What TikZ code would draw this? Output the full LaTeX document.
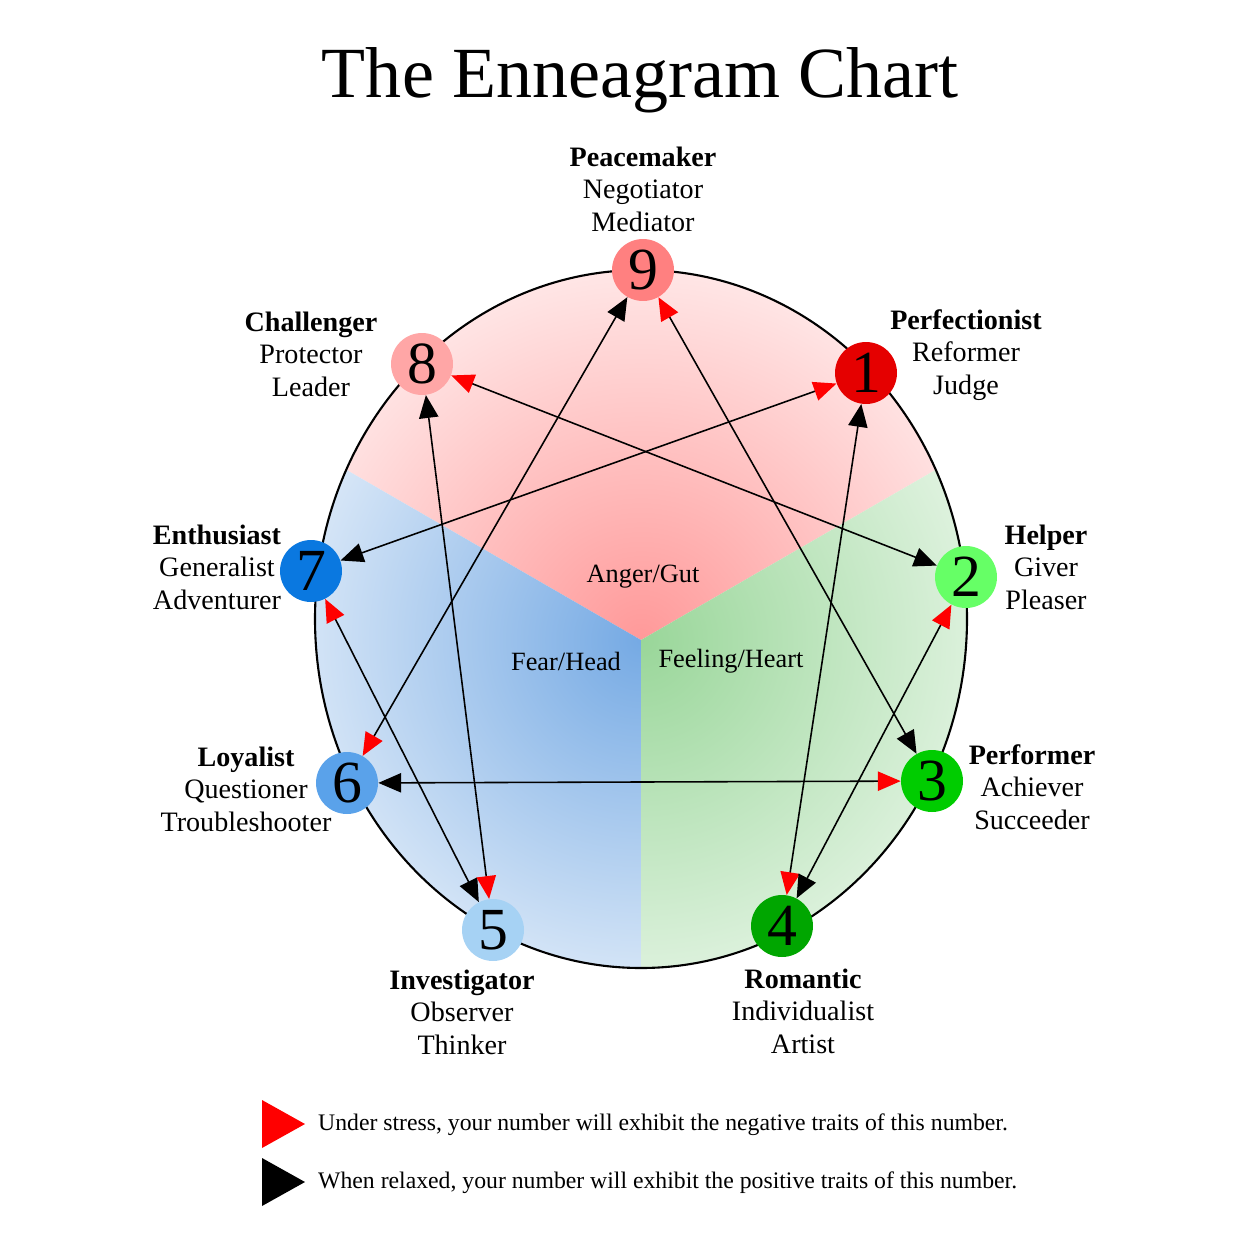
\documentclass[tikz,border=0pt]{standalone}
\usepackage{fontspec}
\setmainfont{Liberation Serif}
\usetikzlibrary{arrows.meta}
\tikzset{>=Latex}
\definecolor{Headcol}{HTML}{3A85D8}
\colorlet{Heartcol}{green!60!black}
\definecolor{col5}{HTML}{A6D2F4}
\definecolor{col6}{HTML}{5AA2EA}
\definecolor{col7}{HTML}{0A78E0}
\tikzset{
  num/.style={circle,minimum size=1.24cm,inner sep=0,font=\fontsize{34}{34}\selectfont},
  lbl/.style={align=center,font=\fontsize{16}{18.5}\selectfont},
  zone/.style={font=\fontsize{15}{15}\selectfont},
  link/.style={line width=0.9pt,
    {Triangle[length=13pt,width=11pt,black]}-{Triangle[length=13pt,width=11pt,red]}},
}
\newcommand\typelabel[3]{\textbf{#1}\\#2\\#3}
\begin{document}
\begin{tikzpicture}[x=0.02cm,y=-0.02cm]
  \useasboundingbox (0,0) rectangle (1254,1254);
  \coordinate (C) at (641,640);
  % centres
  \begin{scope}
    \clip (641,619) ellipse [x radius=326,y radius=349];
    \begin{scope}
      \clip (C) -- (35,290) -- (35,0) -- (1247,0) -- (1247,290) -- cycle;
      \shade[inner color=red!40,outer color=red!5] (C) circle (430);
    \end{scope}
    \begin{scope}
      \clip (C) -- (35,290) -- (35,1254) -- (641,1254) -- cycle;
      \shade[inner color=Headcol!70,outer color=Headcol!8] (C) circle (430);
    \end{scope}
    \begin{scope}
      \clip (C) -- (1247,290) -- (1247,1254) -- (641,1254) -- cycle;
      \shade[inner color=Heartcol!40,outer color=Heartcol!6] (C) circle (430);
    \end{scope}
  \end{scope}
  \draw[line width=1.2pt] (641,619) ellipse [x radius=326,y radius=349];

  \node[zone] (gut) at (643,577) {Anger/Gut};
  \node[zone] (head) at (566,661) {Fear/Head};
  \node[zone] (heart) at (731,661) {Feeling/Heart};

  % type points
  \node[num,fill=red!50!white] (n9) at (643,270) {9};
  \node[num,fill=red!35!white] (n8) at (422,364) {8};
  \node[num,fill=red!90!black] (n1) at (866,373) {1};
  \node[num,fill=green!60!white] (n2) at (966,577) {2};
  \node[num,fill=green!80!black] (n3) at (932,781) {3};
  \node[num,fill=green!65!black] (n4) at (782,926) {4};
  \node[num,fill=col5] (n5) at (493,930) {5};
  \node[num,fill=col6] (n6) at (347,783) {6};
  \node[num,fill=col7] (n7) at (311,571) {7};

  % stress and release lines
  \draw[link] (n1) -- (n4);
  \draw[link] (n2) -- (n8);
  \draw[link] (n3) -- (n9);
  \draw[link] (n4) -- (n2);
  \draw[link] (n5) -- (n7);
  \draw[link] (n6) -- (n3);
  \draw[link] (n7) -- (n1);
  \draw[link] (n8) -- (n5);
  \draw[link] (n9) -- (n6);

  % names
  \node[lbl] (l9) at (643,189) {\typelabel{Peacemaker}{Negotiator}{Mediator}};
  \node[lbl] (l8) at (311,354) {\typelabel{Challenger}{Protector}{Leader}};
  \node[lbl] (l1) at (966,355) {\typelabel{Perfectionist}{Reformer}{Judge}};
  \node[lbl] (l2) at (1046,567) {\typelabel{Helper}{Giver}{Pleaser}};
  \node[lbl] (l7) at (217,567) {\typelabel{Enthusiast}{Generalist}{Adventurer}};
  \node[lbl] (l6) at (246,789) {\typelabel{Loyalist}{Questioner}{Troubleshooter}};
  \node[lbl] (l3) at (1032,787) {\typelabel{Performer}{Achiever}{Succeeder}};
  \node[lbl] (l5) at (462,1012) {\typelabel{Investigator}{Observer}{Thinker}};
  \node[lbl] (l4) at (803,1011) {\typelabel{Romantic}{Individualist}{Artist}};

  \node[font=\fontsize{41}{41}\selectfont] (title) at (640,80) {The Enneagram Chart};

  % legend
  \fill[red] (262,1100) -- (305,1124) -- (262,1148) -- cycle;
  \fill[black] (262,1158) -- (305,1182) -- (262,1206) -- cycle;
  \node[anchor=west,font=\fontsize{13.5}{15}\selectfont] (stress) at (312,1125)
    {Under stress, your number will exhibit the negative traits of this number.};
  \node[anchor=west,font=\fontsize{13.5}{15}\selectfont] (relax) at (312,1183)
    {When relaxed, your number will exhibit the positive traits of this number.};
\end{tikzpicture}
\end{document}
